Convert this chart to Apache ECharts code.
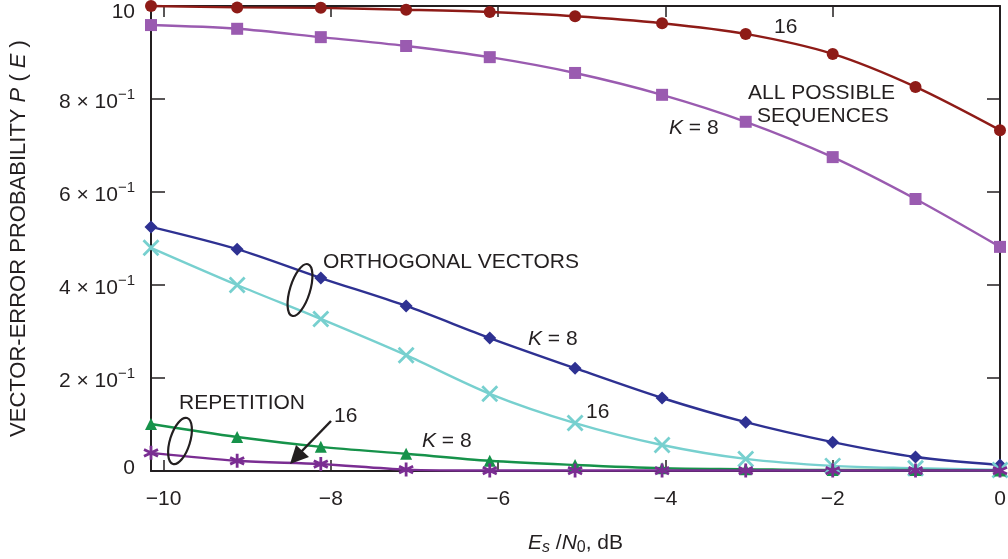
<!DOCTYPE html>
<html>
<head>
<meta charset="utf-8">
<script src="https://cdn.jsdelivr.net/npm/echarts@6/dist/echarts.min.js"></script>
<style>
  html, body { margin: 0; padding: 0; background: #fff; }
  #chart { width: 1008px; height: 559px; }
</style>
</head>
<body>
<div id="chart"></div>
<script>
// Es/N0 in dB (sample positions)
const esn0 = [-10.15, -9.12, -8.12, -7.1, -6.1, -5.08, -4.04, -3.04, -2, -1.01, 0];

const allSeq16 = [1.0, 0.997, 0.996, 0.992, 0.987, 0.978, 0.963, 0.94, 0.897, 0.826, 0.733];
const allSeq8 = [0.959, 0.951, 0.933, 0.914, 0.89, 0.856, 0.809, 0.751, 0.675, 0.585, 0.482];
const orth8 = [0.525, 0.477, 0.415, 0.355, 0.286, 0.221, 0.157, 0.105, 0.062, 0.03, 0.013];
const orth16 = [0.48, 0.4, 0.327, 0.249, 0.166, 0.103, 0.056, 0.026, 0.011, 0.006, 0.002];
const rep8 = [0.101, 0.073, 0.052, 0.037, 0.022, 0.013, 0.006, 0.004, 0.002, 0.002, 0.001];
const rep16 = [0.039, 0.022, 0.015, 0.003, 0.001, 0.001, 0.001, 0.001, 0.001, 0.001, 0.001];

const xTicks = [-10, -8, -6, -4, -2, 0];

const FONT = "'Liberation Sans', Arial, sans-serif";
const INK = "#231f20";
const FS = 21;

const pairs = (ys) => ys.map((y, i) => [esn0[i], y]);

const crossPath = "path://M0,0L10,10M10,0L0,10";
const starPath = "path://M5,0L5,10M0.8,2.6L9.2,7.4M0.8,7.4L9.2,2.6";

function lineSeries(name, ys, color, symbol, size, stroke) {
  return {
    name,
    type: "line",
    data: pairs(ys),
    smooth: 0.3,
    symbol,
    symbolSize: size,
    clip: false,
    lineStyle: { width: 2.4, color },
    itemStyle: stroke
      ? { color: color, borderColor: color, borderWidth: 2.8 }
      : { color: color },
    z: 3,
  };
}

const chart = echarts.init(document.getElementById("chart"));

const italicK = { rich: { i: { font: "italic " + FS + "px " + FONT, fill: INK } } };
const txt = (x, y, text, extra) => ({
  type: "text",
  x, y,
  style: Object.assign({ text, fill: INK, font: FS + "px " + FONT, textVerticalAlign: "middle" }, extra || {}),
  z: 10,
});

const frameLine = { onZero: false, lineStyle: { color: INK, width: 2 } };

chart.setOption({
  animation: false,
  textStyle: { fontFamily: FONT },
  grid: { left: 151, right: 8, top: 6, bottom: 88, containLabel: false, outerBoundsMode: "none" },
  xAxis: [
    {
      type: "value",
      min: -10.15,
      max: 0,
      axisLine: frameLine,
      axisTick: { inside: true, length: 11, customValues: xTicks, lineStyle: { color: INK, width: 1.5 } },
      axisLabel: {
        customValues: xTicks,
        color: INK,
        fontSize: FS,
        margin: 18,
        formatter: (v) => String(v).replace("-", "\u2212"),
      },
      splitLine: { show: false },
      name: "{i|E}{sub|s} /{i|N}{sub0|0}, dB",
      nameLocation: "middle",
      nameGap: 59,
      nameTextStyle: {
        color: INK,
        fontSize: FS,
        rich: {
          i: { fontStyle: "italic", fontSize: FS, color: INK },
          sub: { fontStyle: "italic", fontSize: 16, color: INK, padding: [10, 0, 0, 0] },
          sub0: { fontSize: 16, color: INK, padding: [10, 0, 0, 0] },
        },
      },
    },
    {
      type: "value",
      position: "top",
      min: -10.15,
      max: 0,
      axisLine: Object.assign({ show: true }, frameLine),
      axisTick: { inside: true, length: 11, customValues: xTicks, lineStyle: { color: INK, width: 1.5 } },
      axisLabel: { show: false },
      splitLine: { show: false },
    },
  ],
  yAxis: [
    {
      type: "value",
      min: 0,
      max: 1,
      interval: 0.2,
      axisLine: Object.assign({ show: true }, frameLine),
      axisTick: { show: true, inside: true, length: 14, lineStyle: { color: INK, width: 1.5 } },
      axisLabel: {
        color: INK,
        fontSize: FS,
        margin: 16,
        formatter: (v) => {
          if (v === 0) return "{z|0}";
          if (v >= 0.999) return "{top|10}";
          return "{n|" + Math.round(v * 10) + " \u00d7 10}{sup|\u22121}";
        },
        rich: {
          z: { fontSize: FS, color: INK, padding: [0, 0, 6, 0] },
          top: { fontSize: FS, color: INK, padding: [12, 0, 0, 0] },
          n: { fontSize: FS, color: INK, padding: [6, 0, 0, 0] },
          sup: { fontSize: 15, color: INK, padding: [0, 0, 9, 0] },
        },
      },
      splitLine: { show: false },
      name: "VECTOR-ERROR PROBABILITY {i|P} ( {i|E} )",
      nameLocation: "middle",
      nameGap: 121,
      nameRotate: 90,
      nameTextStyle: {
        color: INK,
        fontSize: 22,
        rich: { i: { fontStyle: "italic", fontSize: 22, color: INK } },
      },
    },
    {
      type: "value",
      position: "right",
      min: 0,
      max: 1,
      interval: 0.2,
      axisLine: Object.assign({ show: true }, frameLine),
      axisTick: { show: true, inside: true, length: 13, lineStyle: { color: INK, width: 1.5 } },
      axisLabel: { show: false },
      splitLine: { show: false },
    },
  ],
  series: [
    lineSeries("all sequences, 16", allSeq16, "#8e1b17", "circle", 12),
    lineSeries("all sequences, K = 8", allSeq8, "#9a5bb0", "rect", 12),
    lineSeries("orthogonal, K = 8", orth8, "#2e3192", "diamond", 13),
    lineSeries("orthogonal, 16", orth16, "#77d0cf", crossPath, 15, true),
    lineSeries("repetition, K = 8", rep8, "#16924a", "triangle", 12),
    lineSeries("repetition, 16", rep16, "#7a2d92", starPath, 14, true),
  ],
  graphic: [
    txt(774, 27, "16"),
    txt(748, 93, "ALL POSSIBLE"),
    txt(757, 116, "SEQUENCES"),
    txt(669, 128, "{i|K} = 8", italicK),
    txt(323, 262, "ORTHOGONAL VECTORS"),
    txt(528, 339, "{i|K} = 8", italicK),
    txt(586, 412, "16"),
    txt(179, 403, "REPETITION"),
    txt(334, 416, "16"),
    txt(422, 441, "{i|K} = 8", italicK),
    {
      type: "ellipse",
      x: 300, y: 290,
      rotation: -0.3,
      shape: { cx: 0, cy: 0, rx: 10, ry: 27 },
      style: { fill: "none", stroke: INK, lineWidth: 2.2 },
      z: 10,
    },
    {
      type: "ellipse",
      x: 180, y: 441,
      rotation: -0.3,
      shape: { cx: 0, cy: 0, rx: 10, ry: 24 },
      style: { fill: "none", stroke: INK, lineWidth: 2.2 },
      z: 10,
    },
    {
      type: "line",
      shape: { x1: 331, y1: 421, x2: 300, y2: 453 },
      style: { stroke: INK, lineWidth: 2.5 },
      z: 10,
    },
    {
      type: "polygon",
      shape: { points: [[290, 464], [296, 445], [309, 457]] },
      style: { fill: INK },
      z: 10,
    },
  ],
});
</script>
</body>
</html>
